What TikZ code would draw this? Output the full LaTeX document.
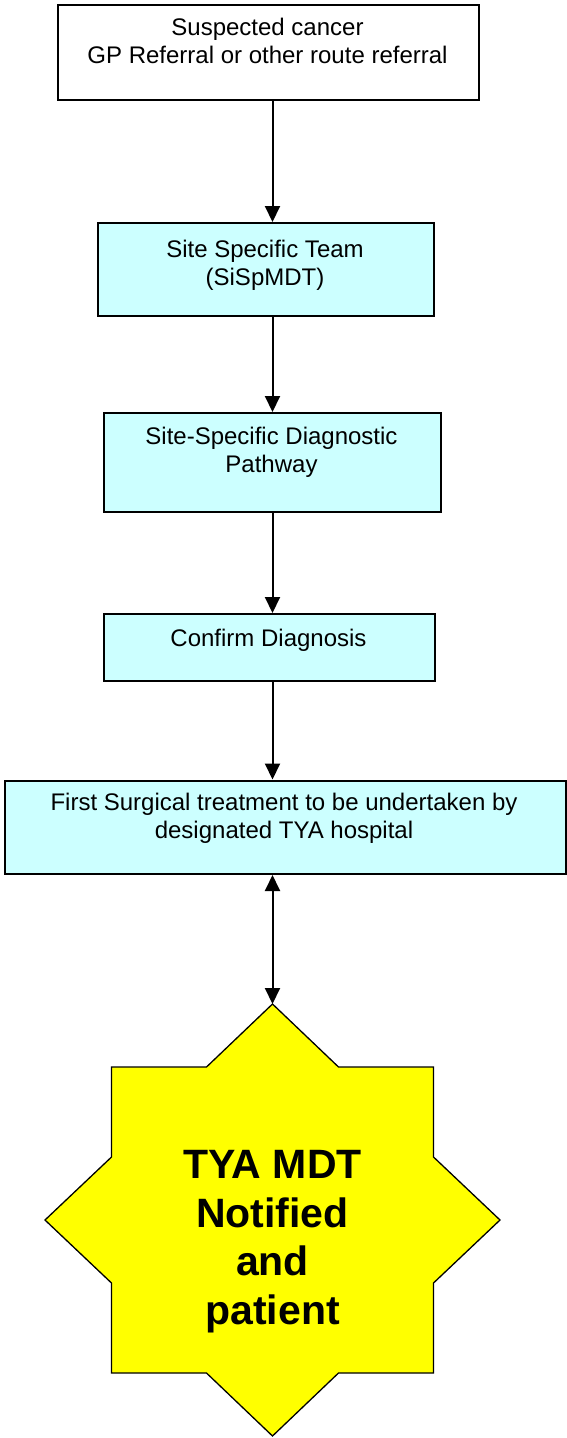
\documentclass[tikz,border=0pt]{standalone}
\usepackage{fontspec}
\setmainfont{Liberation Sans}
\usetikzlibrary{arrows.meta,calc}
\definecolor{boxcyan}{RGB}{204,255,255}
\definecolor{staryellow}{RGB}{255,255,0}
\tikzset{
  box/.style={draw=black, line width=2pt, inner sep=0pt, anchor=north west, fill=white},
  cbox/.style={box, fill=boxcyan},
  txt/.style={align=center, inner sep=0pt, anchor=north, font=\fontsize{24}{28}\selectfont},
  bigtxt/.style={align=center, inner sep=0pt, anchor=north, font=\fontsize{41}{48.5}\selectfont\bfseries},
  flow/.style={line width=2pt, -{Triangle[length=16pt,width=15pt]}},
  flowboth/.style={line width=2pt, {Triangle[length=16pt,width=15pt]}-{Triangle[length=16pt,width=15pt]}},
  starshape/.style={draw=black, line width=1.3pt, fill=staryellow, line join=miter},
}
\begin{document}
\begin{tikzpicture}[x=1pt,y=-1pt]
\useasboundingbox (0,0) rectangle (566,1438);
\coordinate (axis) at (272.5,0);

% boxes
\node[box,  minimum width=421pt,   minimum height=95pt]   (b1) at (57,4) {};
\node[cbox, minimum width=336pt,   minimum height=93pt]   (b2) at (97,222) {};
\node[cbox, minimum width=337pt,   minimum height=99pt]   (b3) at (103,412) {};
\node[cbox, minimum width=331pt,   minimum height=67pt]   (b4) at (103,613) {};
\node[cbox, minimum width=561.5pt, minimum height=93.5pt] (b5) at (3.5,779.5) {};

% texts
\node[txt] (t1) at (267.5,17.5) {Suspected cancer\\GP Referral or other route referral};
\node[txt] (t2) at (265,240) {Site Specific Team\\(SiSpMDT)};
\node[txt] (t3) at (271.5,427) {Site-Specific Diagnostic\\Pathway};
\node[txt] (t4) at (268.5,629) {Confirm Diagnosis};
\node[txt] (t5) at (284,793) {First Surgical treatment to be undertaken by\\designated TYA hospital};

% star
\begin{scope}[shift={(272.5,1220)}]
\draw[starshape] (0,-216) -- (66,-153) -- (161,-153) -- (161,-63) -- (227.5,0)
  -- (161,63) -- (161,153) -- (66,153) -- (0,216) -- (-66,153) -- (-161,153)
  -- (-161,63) -- (-227.5,0) -- (-161,-63) -- (-161,-153) -- (-66,-153) -- cycle;
\coordinate (sttop) at (0,-216);
\end{scope}
\node[bigtxt] (st) at (272.5,1150.5) {TYA MDT\\Notified\\and\\patient};

% connectors
\draw[flow] (b1.south -| axis) -- (b2.north -| axis);
\draw[flow] (b2.south -| axis) -- (b3.north -| axis);
\draw[flow] (b3.south -| axis) -- (b4.north -| axis);
\draw[flow] (b4.south -| axis) -- (b5.north -| axis);
\draw[flowboth] (b5.south -| axis) -- (sttop);
\end{tikzpicture}
\end{document}
